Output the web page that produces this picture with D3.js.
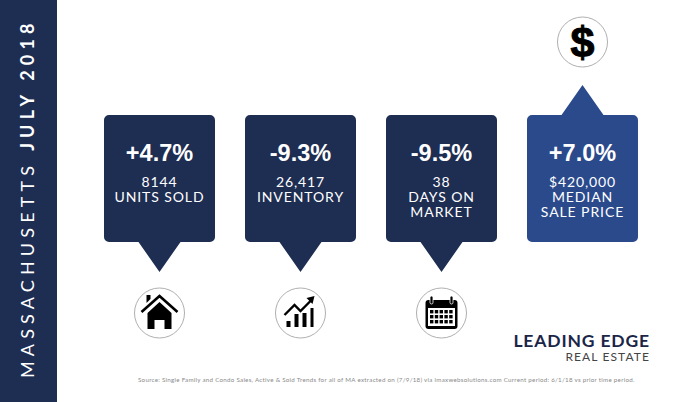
<!DOCTYPE html>
<html>
<head>
<meta charset="utf-8">
<script src="https://cdn.jsdelivr.net/npm/d3@7"></script>
<style>
html, body { margin: 0; padding: 0; background: #fff; }
svg { display: block; }
</style>
</head>
<body>
<div id="graph"></div>
<script>
//Set the graph size
var width = 681,
height = 402;

//Card contents, left to right
var categories = ['sold', 'inventory', 'days', 'price'];
var changes = ['+4.7%', '-9.3%', '-9.5%', '+7.0%'];
var detailLines = [
	['8144', 'UNITS SOLD'],
	['26,417', 'INVENTORY'],
	['38', 'DAYS ON', 'MARKET'],
	['$420,000', 'MEDIAN', 'SALE PRICE']
];
var pointerDirs = ['down', 'down', 'down', 'up'];
var cardColors = ['#1e2d52', '#1e2d52', '#1e2d52', '#2b4a8c'];

var navy = '#1e2d52';
var source = 'Source: Single Family and Condo Sales, Active & Sold Trends for all of MA extracted on (7/9/18) via imaxwebsolutions.com Current period: 6/1/18 vs prior time period.';

var svg = d3.select('#graph').append('svg')
	.attr('width', width)
	.attr('height', height);

//Cards sit on an even band scale
var x = d3.scaleBand()
	.domain(categories)
	.range([104, 638])
	.paddingInner(30 / 141)
	.paddingOuter(0);

var cardTop = 115, cardBottom = 242, pointerLen = 30, pointerHalf = 21, radius = 5;

//Side banner
svg.append('rect')
	.attr('x', 0).attr('y', 0)
	.attr('width', 57).attr('height', height)
	.attr('fill', navy);

var banner = svg.append('text')
	.attr('transform', 'translate(34,378) rotate(-90)')
	.attr('fill', '#fff')
	.style('font-family', 'Lato')
	.style('font-size', '18px');
banner.append('tspan')
	.style('letter-spacing', '5.15px')
	.text('MASSACHUSETTS');
banner.append('tspan')
	.attr('dx', 10)
	.style('font-weight', 'bold')
	.style('letter-spacing', '5.2px')
	.text('JULY 2018');

//Rounded card path with the pointer on top or bottom
function cardPath(i) {
	var l = x(categories[i]), r = l + x.bandwidth(), c = (l + r) / 2;
	var p = d3.path();
	p.moveTo(l + radius, cardTop);
	if (pointerDirs[i] == 'up') {
		p.lineTo(c - pointerHalf, cardTop);
		p.lineTo(c, cardTop - pointerLen);
		p.lineTo(c + pointerHalf, cardTop);
	}
	p.arcTo(r, cardTop, r, cardTop + radius, radius);
	p.arcTo(r, cardBottom, r - radius, cardBottom, radius);
	if (pointerDirs[i] == 'down') {
		p.lineTo(c + pointerHalf, cardBottom);
		p.lineTo(c, cardBottom + pointerLen);
		p.lineTo(c - pointerHalf, cardBottom);
	}
	p.arcTo(l, cardBottom, l, cardBottom - radius, radius);
	p.arcTo(l, cardTop, l + radius, cardTop, radius);
	p.closePath();
	return p.toString();
}

var cards = svg.selectAll('g.card')
	.data(categories)
	.enter().append('g')
	.attr('class', 'card');

cards.append('path')
	.attr('d', function(d, i) { return cardPath(i); })
	.attr('fill', function(d, i) { return cardColors[i]; });

cards.append('text')
	.attr('x', function(d) { return x(d) + x.bandwidth() / 2; })
	.attr('y', 161)
	.attr('text-anchor', 'middle')
	.attr('fill', '#fff')
	.style('font-family', 'Liberation Sans')
	.style('font-weight', 'bold')
	.style('font-size', '23.5px')
	.text(function(d, i) { return changes[i]; });

cards.each(function(d, i) {
	d3.select(this).selectAll('text.detail')
		.data(detailLines[i])
		.enter().append('text')
		.attr('class', 'detail')
		.attr('x', x(d) + x.bandwidth() / 2)
		.attr('y', function(line, j) { return 187 + j * 15; })
		.attr('text-anchor', 'middle')
		.attr('fill', '#fff')
		.style('font-family', 'Lato')
		.style('font-size', '14px')
		.style('letter-spacing', '0.9px')
		.text(line => line);
});

//Icon circles
var iconR = 25, iconBelowY = 313, iconAboveY = 42;
var icons = svg.selectAll('g.icon')
	.data(categories)
	.enter().append('g')
	.attr('class', 'icon')
	.attr('transform', function(d, i) {
		var cy = pointerDirs[i] == 'up' ? iconAboveY : iconBelowY;
		return 'translate(' + (x(d) + x.bandwidth() / 2) + ',' + cy + ')';
	});

icons.append('circle')
	.attr('r', iconR)
	.attr('fill', '#fff')
	.attr('stroke', '#9a9a9a')
	.attr('stroke-width', 0.8);

//House
var house = icons.filter(function(d) { return d == 'sold'; });
house.append('path')
	.attr('d', 'M-18,-1 L0,-17 L18,-1')
	.attr('fill', 'none')
	.attr('stroke', '#000')
	.attr('stroke-width', 2.6);
house.append('path')
	.attr('d', 'M-13,-18 H-9 V-14 L-13,-10 Z')
	.attr('fill', '#000');
house.append('path')
	.attr('d', 'M0,-11 L-12,0 V16 H-5 V7 H5 V16 H12 V0 Z')
	.attr('fill', '#000');

//Rising bars and arrow
var trend = icons.filter(function(d) { return d == 'inventory'; });
trend.append('path')
	.attr('d', 'M-14,8 H-10 V14 H-14 Z M-6,1 H-2 V14 H-6 Z M2,0 H6 V14 H2 Z M10,-5 H13 V14 H10 Z')
	.attr('fill', '#000');
trend.append('path')
	.attr('d', 'M-16,2 L-6,-8 L0,-2 L11,-13')
	.attr('fill', 'none')
	.attr('stroke', '#000')
	.attr('stroke-width', 2.4);
trend.append('path')
	.attr('d', 'M6,-15 L14,-17 L12,-9 Z')
	.attr('fill', '#000');

//Calendar
var calendar = icons.filter(function(d) { return d == 'days'; });
calendar.append('rect')
	.attr('x', -16).attr('y', -13)
	.attr('width', 32).attr('height', 29)
	.attr('rx', 3)
	.attr('fill', '#000');
calendar.append('rect')
	.attr('x', -13.5).attr('y', -5)
	.attr('width', 27).attr('height', 18)
	.attr('fill', '#fff');
calendar.selectAll('rect.ring')
	.data([-10, 10])
	.enter().append('rect')
	.attr('class', 'ring')
	.attr('x', function(d) { return d - 1.5; })
	.attr('y', -17)
	.attr('width', 3).attr('height', 8)
	.attr('rx', 1.5)
	.attr('fill', '#000')
	.attr('stroke', '#fff')
	.attr('stroke-width', 0.8);
calendar.selectAll('rect.day')
	.data(d3.cross(d3.range(5), d3.range(3)))
	.enter().append('rect')
	.attr('class', 'day')
	.attr('x', function(d) { return -11.5 + d[0] * 4.8; })
	.attr('y', function(d) { return -3 + d[1] * 5; })
	.attr('width', 3.4).attr('height', 3.4)
	.attr('fill', '#000');

//Dollar sign
icons.filter(function(d) { return d == 'price'; })
	.append('text')
	.attr('y', 15)
	.attr('text-anchor', 'middle')
	.attr('fill', '#000')
	.attr('stroke', '#000')
	.attr('stroke-width', 1)
	.style('font-family', 'Liberation Sans')
	.style('font-weight', 'bold')
	.style('font-size', '43px')
	.text('$');

//Logo
svg.append('text')
	.attr('x', 650).attr('y', 347)
	.attr('text-anchor', 'end')
	.attr('fill', '#1a2548')
	.style('font-family', 'Lato')
	.style('font-weight', 'bold')
	.style('font-size', '17.5px')
	.style('letter-spacing', '0.85px')
	.text('LEADING EDGE');
svg.append('text')
	.attr('x', 650).attr('y', 361)
	.attr('text-anchor', 'end')
	.attr('fill', '#444')
	.style('font-family', 'Lato')
	.style('font-size', '12px')
	.style('letter-spacing', '1.1px')
	.text('REAL ESTATE');

//Source line
svg.append('text')
	.attr('x', 138).attr('y', 382)
	.attr('fill', '#8a8a8a')
	.style('font-family', 'Lato')
	.style('font-size', '6.2px')
	.style('letter-spacing', '0.28px')
	.text(source);
</script>
</body>
</html>
